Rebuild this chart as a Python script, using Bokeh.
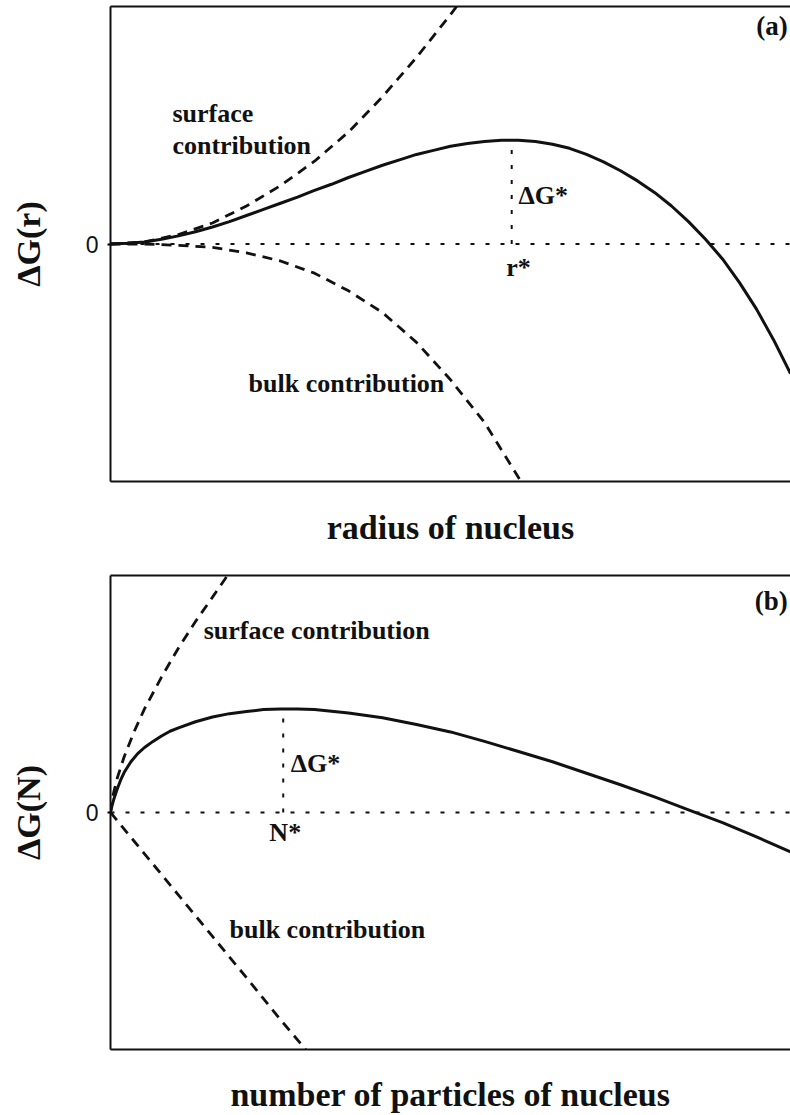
from bokeh.plotting import figure
from bokeh.models import Range1d, FixedTicker, Label, LinearAxis, Span
from bokeh.layouts import column
from bokeh.embed import file_html
from bokeh.resources import INLINE

# ---------------- data (arbitrary units) ----------------
# (a) free energy of a nucleus as a function of its radius
r_total = [0, 0.25, 0.5, 0.75, 1.0, 1.25, 1.5, 1.75, 2.0, 2.25, 2.5,
           2.75, 3.0, 3.25, 3.5, 3.75, 4.0, 4.25, 4.5, 4.75, 5.0,
           5.25, 5.5, 5.75, 6.0, 6.25, 6.5, 6.75, 7.0, 7.25, 7.5,
           7.75, 8.0, 8.25, 8.5, 8.75, 9.0, 9.25, 9.5, 9.75, 10.0]
dG_r_total = [0, 0.01, 0.03, 0.07, 0.12, 0.18, 0.25, 0.33, 0.42, 0.51, 0.60,
              0.69, 0.79, 0.88, 0.98, 1.07, 1.16, 1.24, 1.32, 1.38, 1.44,
              1.48, 1.51, 1.53, 1.53, 1.51, 1.47, 1.41, 1.32, 1.21, 1.08,
              0.93, 0.76, 0.56, 0.33, 0.07, -0.22, -0.57, -0.96, -1.41, -1.91]
r_surface = [0, 0.5, 1.0, 1.5, 2.0, 2.5, 3.0, 3.5, 4.0, 4.5, 5.0, 5.09]
dG_r_surface = [0, 0.03, 0.14, 0.31, 0.56, 0.86, 1.22, 1.65, 2.17, 2.75, 3.38, 3.50]
r_bulk = [0, 0.5, 1.0, 1.5, 2.0, 2.5, 3.0, 3.5, 4.0, 4.5, 5.0, 5.5, 6.0, 6.03]
dG_r_bulk = [0, 0.0, -0.02, -0.05, -0.13, -0.25, -0.43, -0.69, -1.01, -1.45,
             -2.00, -2.63, -3.44, -3.50]
r_star = 5.9
dG_r_star = 1.53

# (b) free energy of a nucleus as a function of its number of particles
n_total = [0, 0.02, 0.05, 0.1, 0.15, 0.2, 0.3, 0.4, 0.5, 0.625, 0.75, 0.875,
           1.0, 1.25, 1.5, 1.75, 2.0, 2.25, 2.5, 2.75, 3.0, 3.5, 4.0, 4.5,
           5.0, 5.5, 6.0, 6.5, 7.0, 7.5, 8.0, 8.5, 9.0, 9.5, 10.0]
dG_n_total = [0, 0.09, 0.20, 0.35, 0.48, 0.59, 0.75, 0.87, 0.96, 1.05, 1.13, 1.20,
              1.25, 1.34, 1.41, 1.46, 1.49, 1.52, 1.53, 1.53, 1.52, 1.47, 1.40, 1.30,
              1.19, 1.05, 0.90, 0.75, 0.58, 0.41, 0.23, 0.04, -0.15, -0.36, -0.58]
n_surface = [0, 0.02, 0.05, 0.1, 0.2, 0.35, 0.5, 0.75, 1.0, 1.25, 1.5, 1.72]
dG_n_surface = [0, 0.17, 0.31, 0.51, 0.82, 1.20, 1.53, 2.00, 2.43, 2.82, 3.18, 3.50]
n_bulk = [0, 0.5, 1.0, 1.5, 2.0, 2.5, 2.87]
dG_n_bulk = [0, -0.61, -1.22, -1.83, -2.44, -3.06, -3.50]
n_star = 2.54
dG_n_star = 1.53

SERIF = "Liberation Serif"
SANS = "Liberation Sans"
INK = "#111111"
DASH = "10 7"
DOT = "4 11"


def make_panel(height, top, bottom, xlabel, ylabel, xlabel_standoff):
    p = figure(width=790, height=height,
               x_range=Range1d(0, 10), y_range=Range1d(-3.5, 3.5),
               output_backend="svg", toolbar_location=None,
               min_border_left=110, min_border_right=0,
               min_border_top=top, min_border_bottom=bottom)
    p.grid.visible = False
    p.outline_line_color = None
    p.background_fill_color = "white"
    p.border_fill_color = "white"

    xa = p.xaxis[0]
    xa.ticker = FixedTicker(ticks=[])
    xa.major_label_text_font_size = "0px"
    xa.major_label_standoff = 0
    xa.major_tick_out = 0
    xa.minor_tick_out = 0
    xa.axis_line_width = 2
    xa.axis_line_color = INK
    xa.axis_label = xlabel
    xa.axis_label_text_font = SERIF
    xa.axis_label_text_font_style = "bold"
    xa.axis_label_text_font_size = "34px"
    xa.axis_label_text_color = INK
    xa.axis_label_standoff = xlabel_standoff

    ya = p.yaxis[0]
    ya.ticker = FixedTicker(ticks=[0])
    ya.major_label_text_font = SANS
    ya.major_label_text_font_style = "normal"
    ya.major_label_text_font_size = "23px"
    ya.major_label_text_color = INK
    ya.major_label_standoff = 9
    ya.major_tick_out = 3
    ya.major_tick_in = 0
    ya.minor_tick_out = 0
    ya.minor_tick_in = 0
    ya.major_tick_line_width = 2
    ya.axis_line_width = 2
    ya.axis_line_color = INK
    ya.axis_label = ylabel
    ya.axis_label_text_font = SERIF
    ya.axis_label_text_font_style = "bold"
    ya.axis_label_text_font_size = "34px"
    ya.axis_label_text_color = INK
    ya.axis_label_standoff = 36

    # top border of the frame
    top_axis = LinearAxis(ticker=FixedTicker(ticks=[]),
                          major_label_text_font_size="0px",
                          major_label_standoff=0,
                          major_tick_out=0, minor_tick_out=0,
                          axis_line_width=2, axis_line_color=INK)
    p.add_layout(top_axis, "above")

    # zero reference line
    p.add_layout(Span(location=0, dimension="width", line_color=INK,
                      line_width=2, line_dash=DOT))
    return p


def add_label(p, x, y, text, align="left", size="26px"):
    p.add_layout(Label(x=x, y=y, text=text, text_font=SERIF,
                       text_font_style="bold", text_font_size=size,
                       text_color=INK, text_align=align,
                       text_baseline="middle"))


# ---------------- panel (a) ----------------
pa = make_panel(555, 6, 74, "radius of nucleus", "ΔG(r)", 27)
pa.line(r_surface, dG_r_surface, line_color=INK, line_width=2.8, line_dash=DASH)
pa.line(r_bulk, dG_r_bulk, line_color=INK, line_width=2.8, line_dash=DASH)
pa.line(r_total, dG_r_total, line_color=INK, line_width=3, line_join="round")
pa.segment(x0=[r_star], y0=[0], x1=[r_star], y1=[dG_r_star - 0.13],
           line_color=INK, line_width=2, line_dash=DOT)

add_label(pa, 0.91, 1.92, "surface")
add_label(pa, 0.91, 1.45, "contribution")
add_label(pa, 6.0, 0.71, "ΔG*")
add_label(pa, 6.0, -0.35, "r*", align="center")
add_label(pa, 2.03, -2.06, "bulk contribution")
add_label(pa, 9.96, 3.22, "(a)", align="right", size="27px")

# ---------------- panel (b) ----------------
pb = make_panel(560, 20, 65, "number of particles of nucleus", "ΔG(N)", 26)
pb.line(n_surface, dG_n_surface, line_color=INK, line_width=2.8, line_dash=DASH)
pb.line(n_bulk, dG_n_bulk, line_color=INK, line_width=2.8, line_dash=DASH)
pb.line(n_total, dG_n_total, line_color=INK, line_width=3, line_join="round")
pb.segment(x0=[n_star], y0=[0], x1=[n_star], y1=[dG_n_star - 0.13],
           line_color=INK, line_width=2, line_dash=DOT)

add_label(pb, 1.37, 2.69, "surface contribution")
add_label(pb, 2.65, 0.73, "ΔG*")
add_label(pb, 2.57, -0.30, "N*", align="center")
add_label(pb, 1.75, -1.73, "bulk contribution")
add_label(pb, 9.96, 3.13, "(b)", align="right", size="27px")

layout = column(pa, pb, spacing=0)
open("out.html", "w").write(file_html(layout, INLINE))
